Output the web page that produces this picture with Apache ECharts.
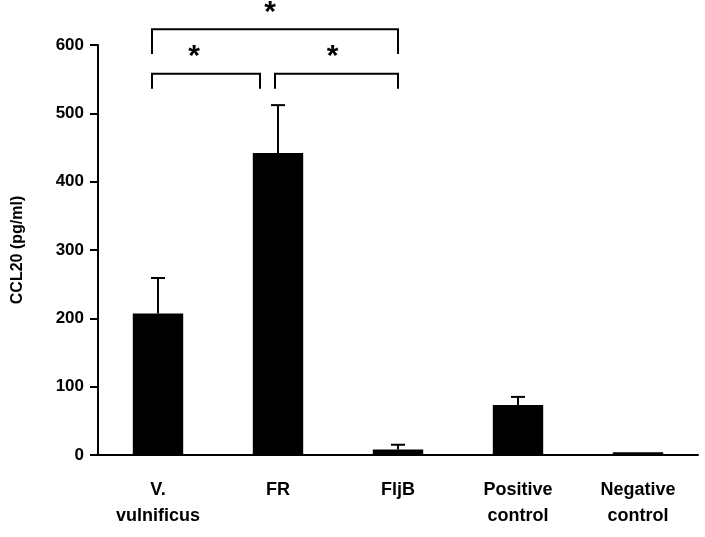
<!DOCTYPE html>
<html>
<head>
<meta charset="utf-8">
<script src="https://cdn.jsdelivr.net/npm/echarts@6/dist/echarts.min.js"></script>
<style>body{margin:0;background:#fff}#container{width:705px;height:537px}</style>
</head>
<body>
<div id="container"></div>
<script>
var categories = ['V.\nvulnificus', 'FR', 'FljB', 'Positive\ncontrol', 'Negative\ncontrol'];
var means = [207, 442, 8, 73, 4];
var errors = [52, 70, 7, 12, 0];
var yTicks = [0, 100, 200, 300, 400, 500, 600];
// brackets: [from index, to index, bar value, leg value, left offset px, right offset px, star offset px]
var brackets = [
    [0, 1, 558, 536, -6, -18, -12],
    [1, 2, 558, 536, -3, 0, -4],
    [0, 2, 623, 587, -6, 0, -5]
];

var myChart = echarts.init(document.getElementById('container'));
var font = 'Liberation Sans';

var option = {
    animation: false,
    grid: {left: 98, right: 7, top: 45, bottom: 82},
    xAxis: {
        type: 'category',
        data: categories,
        axisLine: {lineStyle: {color: '#000', width: 2}},
        axisTick: {lineStyle: {color: '#000', width: 2}, length: 8},
        axisLabel: {color: '#000', fontFamily: font, fontWeight: 'bold', fontSize: 18, margin: 22, lineHeight: 26}
    },
    yAxis: {
        type: 'value',
        min: yTicks[0], max: yTicks[yTicks.length - 1], interval: 100,
        name: 'CCL20 (pg/ml)',
        nameLocation: 'middle', nameGap: 72, nameRotate: 90,
        nameTextStyle: {color: '#000', fontFamily: font, fontWeight: 'bold', fontSize: 16},
        axisLine: {show: true, lineStyle: {color: '#000', width: 2}},
        axisTick: {show: true, inside: false, length: 8, lineStyle: {color: '#000', width: 2}},
        splitLine: {show: false},
        axisLabel: {color: '#000', fontFamily: font, fontWeight: 'bold', fontSize: 17, margin: 14}
    },
    series: [
        {
            type: 'bar',
            data: means,
            barWidth: '42%',
            itemStyle: {color: '#000'}
        },
        {
            type: 'custom',
            data: means.map(function (m, i) { return [i, m, m + errors[i]]; }),
            renderItem: function (params, api) {
                var lo = api.coord([api.value(0), api.value(1)]);
                var hi = api.coord([api.value(0), api.value(2)]);
                if (api.value(2) === api.value(1)) return;
                return {type: 'group', children: [
                    {type: 'line', shape: {x1: lo[0], y1: lo[1], x2: hi[0], y2: hi[1]}, style: {stroke: '#000', lineWidth: 2}},
                    {type: 'line', shape: {x1: hi[0] - 7, y1: hi[1], x2: hi[0] + 7, y2: hi[1]}, style: {stroke: '#000', lineWidth: 2}}
                ]};
            },
            z: 3
        },
        {
            type: 'custom',
            clip: false,
            data: brackets,
            renderItem: function (params, api) {
                var a = api.coord([api.value(0), api.value(2)]);
                var b = api.coord([api.value(1), api.value(2)]);
                var leg = api.coord([api.value(0), api.value(3)])[1];
                var x1 = a[0] + api.value(4), x2 = b[0] + api.value(5), y = a[1];
                return {type: 'group', children: [
                    {type: 'polyline', shape: {points: [[x1, leg], [x1, y], [x2, y], [x2, leg]]}, style: {stroke: '#000', lineWidth: 2, fill: null}},
                    {type: 'text', x: (x1 + x2) / 2 + api.value(6), y: y - 2, style: {text: '*', fontSize: 30, fontWeight: 'bold', fontFamily: font, fill: '#000', align: 'center', verticalAlign: 'bottom'}}
                ]};
            }
        }
    ]
};
myChart.setOption(option);
</script>
</body>
</html>
